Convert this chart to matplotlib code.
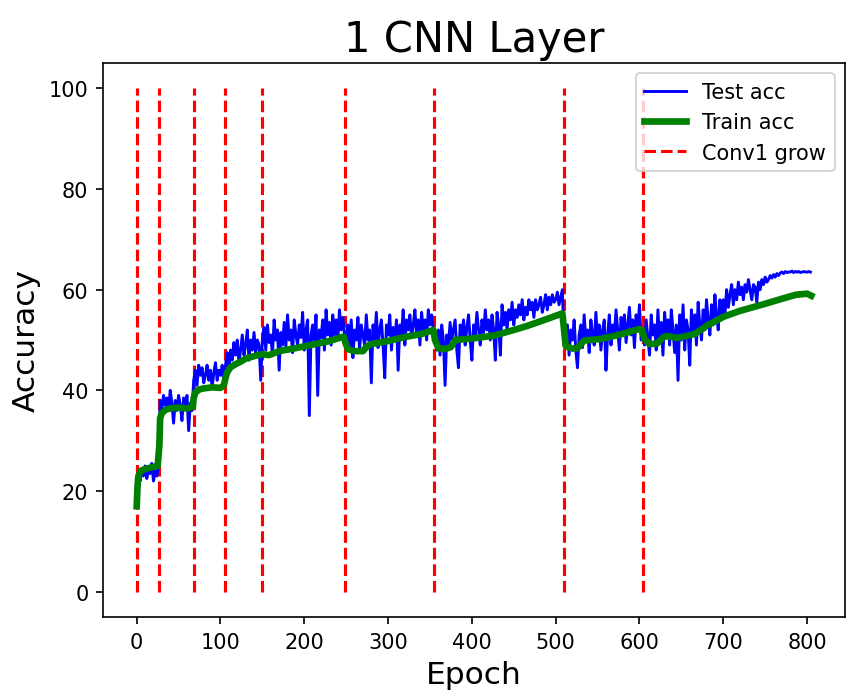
import numpy as np
import matplotlib
matplotlib.use('Agg')
import matplotlib.pyplot as plt

# test accuracy, one value every 2 epochs (0, 2, 4, ... 804)
test_acc = [
    # 0-26
    22.5, 23.5, 22, 24.5, 23, 25, 22.5, 24, 23.5, 25.5, 22, 24, 23, 25,
    # 28-66
    38, 36.5, 39, 37, 38.5, 36, 40, 37.5, 33.5, 38, 36, 39, 37, 34, 38.5,
    36.5, 39, 32, 37.5, 36,
    # 68-104
    42, 44, 41, 45, 43, 44.5, 41.5, 43, 45, 42, 44, 40.5, 43.5, 45.5, 42,
    44, 43, 45, 41.5,
    # 106-148
    45, 47.5, 44, 48, 46, 49.5, 47, 50, 45.5, 48, 51, 47, 49, 52, 46, 50,
    48, 51.5, 47.5, 50, 49, 42,
    # 150-248
    50, 52.5, 48, 53, 49.5, 51, 47, 54, 50, 52,
    44, 51.5, 49, 53.5, 48.5, 55, 50, 52, 47.5, 54,
    51, 49, 53, 50.5, 55.5, 48, 52, 54, 35, 51,
    53, 49, 55, 39, 52, 50.5, 54, 48, 56, 51,
    53.5, 49, 55, 51, 54, 50, 56, 52, 54.5, 51,
    # 250-354
    50, 53, 48, 54, 46.5, 52, 50, 54.5, 48, 53,
    51, 49, 55, 50, 52, 41.5, 53, 50, 55.5, 48.5,
    52, 54, 49, 42.5, 53, 51, 55, 48, 52.5, 50,
    54, 44, 53, 51, 56, 49, 54, 52, 55, 50.5,
    53, 56, 51, 54, 49, 55.5, 52, 54, 50, 56,
    53, 55, 52,
    # 356-508
    50, 48, 52, 47, 53, 50, 41, 51, 49, 53.5,
    50, 52, 54, 48, 44.5, 53, 51, 54, 49, 52.5,
    55, 50, 46, 53, 51, 55.5, 52, 49, 54, 51.5,
    56, 52, 54, 50, 55, 52, 46, 55.5, 53, 47,
    57, 53, 55.5, 52, 56, 54, 57.5, 53, 56, 54.5,
    57, 55, 58, 54, 56.5, 55, 58, 56, 57.5, 54.5,
    58, 56, 57, 58.5, 55.5, 57, 59, 56, 58.5, 57,
    59, 57.5, 58, 59.5, 57, 58.5, 60,
    # 510-602
    49, 51, 53, 47, 52, 50, 54, 48, 44.5, 51,
    53, 48.5, 55, 50, 52, 47.5, 54, 51, 49, 55.5,
    50, 53, 48, 52, 54, 44, 51, 55, 49, 53,
    50.5, 56, 52, 48, 54.5, 51, 55, 49.5, 53, 56.5,
    51, 54, 48.5, 55, 52, 57, 50,
    # 604-698
    52, 49, 54, 50.5, 47, 55, 51, 53, 48, 56,
    50, 53.5, 47, 55.5, 51, 54, 49, 56, 52, 47.5,
    53, 42, 55, 50, 57, 48, 54, 52, 45, 56,
    51, 55, 49, 57.5, 53, 50, 56, 52, 58, 54,
    51, 57, 53, 59, 55, 52, 58, 54,
    # 700-804
    58, 55, 60, 56.5, 59, 61, 57, 60, 58, 61.5,
    59, 60.5, 58, 61, 59.5, 62, 60, 58, 61, 60.5,
    57.5, 61.5, 60, 62, 61, 62.5, 61.5, 62, 62.8, 62.3,
    63, 62.5, 63.2, 62.8, 63.3, 63.5, 63.2, 63.6, 63.4, 63.5,
    63.5, 63.7, 63.4, 63.6, 63.5, 63.6, 63.4, 63.5, 63.6, 63.5,
    63.5, 63.6, 63.5,
]
test_epochs = np.arange(0, 2 * len(test_acc), 2)

train_epochs = [0, 1, 2, 5, 10, 15, 20, 25, 27, 28, 30, 35, 40, 50, 60, 67,
                68, 70, 75, 80, 90, 100, 104, 106, 108, 112, 118, 125, 130,
                140, 150, 158, 170, 190, 213, 230, 247, 249, 252, 260, 270,
                275, 280, 300, 320, 340, 354, 356, 360, 368, 375, 380, 400,
                427, 450, 466, 490, 508, 510, 512, 520, 526, 534, 553, 575,
                600, 603, 606, 612, 621, 628, 633, 645, 666, 680, 700, 720,
                748, 770, 787, 800, 805]
train_acc = [17, 21, 23, 24, 24.4, 24.6, 24.8, 25, 29, 34.5, 35.5, 36.2, 36.4,
             36.6, 36.4, 36.8, 38.5, 39.6, 40.2, 40.4, 40.6, 40.5, 41, 42.5,
             43.6, 44.6, 45.2, 45.8, 46.3, 46.8, 47.2, 47, 47.8, 48.4, 49.2,
             49.8, 50.7, 49.5, 48.2, 47.8, 47.8, 48.8, 49.2, 49.8, 50.6, 51.2,
             52, 50, 48.4, 48.2, 48.6, 50, 50.3, 50.9, 52, 52.8, 54.2, 55.3,
             52, 48.8, 48.3, 48.4, 49.9, 50.2, 51, 52.2, 52, 50.2, 49.2, 49.3,
             50.5, 50.8, 50.4, 51.2, 52.8, 54.6, 55.8, 57.1, 58.2, 59, 59.2,
             58.8]

grow_epochs = [0, 27, 68, 105, 149, 249, 355, 510, 604]

fig = plt.figure(figsize=(5.74, 4.653), dpi=150)
ax = fig.add_axes([0.1196, 0.1146, 0.8618, 0.7937])

ax.plot(test_epochs, test_acc, color='blue', linewidth=1.4, label='Test acc')
ax.plot(train_epochs, train_acc, color='green', linewidth=3.2, label='Train acc')
for i, e in enumerate(grow_epochs):
    ax.plot([e, e], [0, 100], 'r--', linewidth=1.5, zorder=1.5,
            label='Conv1 grow' if i == 0 else None)

ax.set_title('1 CNN Layer', fontsize=20)
ax.set_xlabel('Epoch', fontsize=15)
ax.set_ylabel('Accuracy', fontsize=15)
ax.tick_params(labelsize=10)
ax.set_xticks(range(0, 801, 100))
ax.set_yticks(range(0, 101, 20))
ax.legend(loc='upper right', fontsize=10)

fig.savefig('out.png', dpi=150)
